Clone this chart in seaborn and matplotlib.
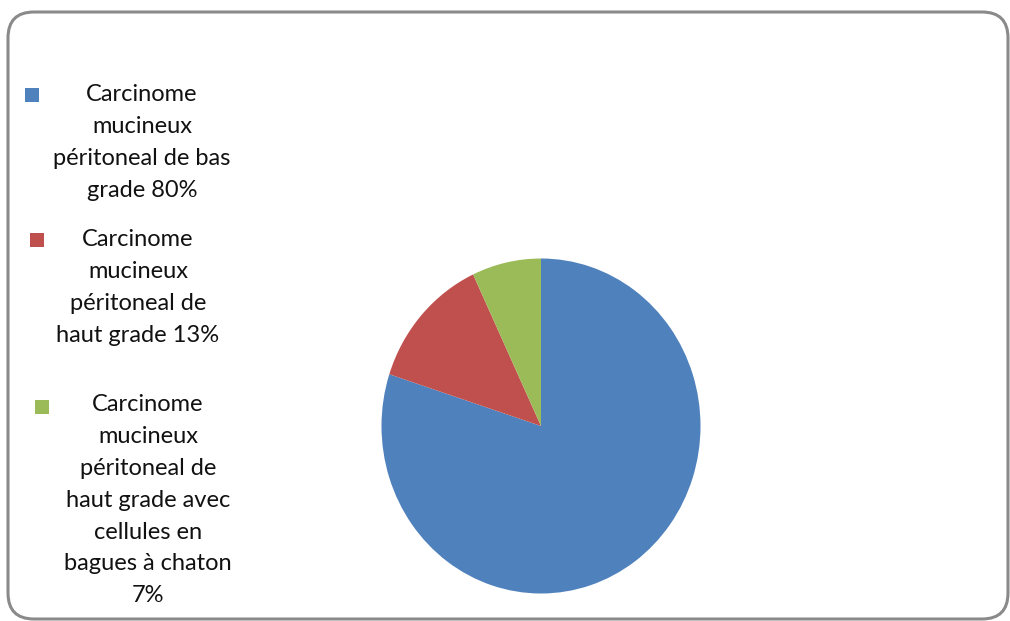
import matplotlib
matplotlib.use("Agg")
import matplotlib.pyplot as plt
from matplotlib.patches import FancyBboxPatch, Rectangle
from matplotlib.transforms import IdentityTransform
import seaborn as sns

sns.set_theme(style="white")
plt.rcParams["font.family"] = ["Lato", "DejaVu Sans"]

# Data
labels = [
    "Carcinome\nmucineux\npéritoneal de bas\ngrade 80%",
    "Carcinome\nmucineux\npéritoneal de\nhaut grade 13%",
    "Carcinome\nmucineux\npéritoneal de\nhaut grade avec\ncellules en\nbagues à chaton\n7%",
]
values = [80, 13, 7]
colors = ["#4F81BD", "#C0504D", "#9BBB59"]

W, H = 1010, 621
fig = plt.figure(figsize=(W / 100, H / 100), dpi=100)
fig.patch.set_facecolor("white")

# Rounded outer frame (pixel coordinates)
frame = FancyBboxPatch((8, 2), 1000, 607,
                       boxstyle="round,pad=0,rounding_size=26",
                       transform=IdentityTransform(),
                       facecolor="none", edgecolor="#8a8a8a", linewidth=2.2)
fig.patches.append(frame)

# Pie
cx, cy, rx, ry = 541, 426, 159.5, 167.5
ax = fig.add_axes([(cx - rx) / W, (H - cy - ry) / H, 2 * rx / W, 2 * ry / H])
wedges, _ = ax.pie(values, colors=colors, startangle=90, counterclock=False,
                   wedgeprops=dict(linewidth=0))
ax.set_aspect("auto")
ax.set_xlim(-1, 1)
ax.set_ylim(-1, 1)
ax.axis("off")

# Legend: square markers and centred, wrapped labels
square_px = [(25, 88), (30, 233), (35, 400)]
text_px = [(142, 84), (138, 229), (148, 394)]
for (sx, sy), (tx, ty), w, lab in zip(square_px, text_px, wedges, labels):
    fig.patches.append(Rectangle((sx / W, (H - sy - 14) / H), 14 / W, 14 / H,
                                 transform=fig.transFigure,
                                 facecolor=w.get_facecolor(), edgecolor="none"))
    fig.text(tx / W, 1 - ty / H, lab, ha="center", va="top",
             multialignment="center", fontsize=17, linespacing=1.64,
             color="#111111")

fig.savefig("out.png", dpi=100, facecolor="white")
